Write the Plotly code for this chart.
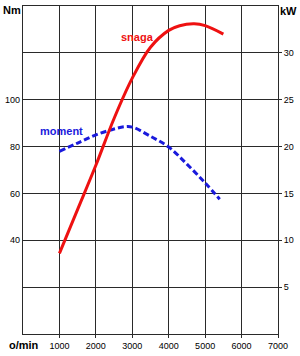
import plotly.graph_objects as go

# Data
power_rpm = [1000, 1500, 2000, 2500, 3000, 3500, 4000, 4300, 4700, 5000, 5500]
power_kw = [8.6, 13.3, 18.0, 23.0, 27.3, 30.6, 32.4, 32.9, 33.1, 32.9, 32.0]

torque_rpm = [1000, 1500, 2000, 2500, 2800, 3000, 3500, 4000, 4500, 5000, 5400]
torque_nm = [78.0, 81.5, 85.0, 87.5, 88.5, 88.3, 84.4, 79.8, 72.5, 64.5, 57.5]

x_ticks = [1000, 2000, 3000, 4000, 5000, 6000, 7000]
nm_grid = [0, 20, 40, 60, 80, 100, 120, 140]
nm_labels = ["", "", "40", "60", "80", "100", "", ""]
kw_ticks = [5, 10, 15, 20, 25, 30]

font = "Liberation Sans, Arial, Helvetica, sans-serif"
gridc = "#2a2a2a"

fig = go.Figure()
fig.add_trace(go.Scatter(x=torque_rpm, y=torque_nm, mode="lines", yaxis="y",
                         line=dict(color="#1a1adc", width=3, dash="6px,3px", shape="spline"),
                         showlegend=False, hoverinfo="skip"))
fig.add_trace(go.Scatter(x=power_rpm, y=power_kw, mode="lines", yaxis="y2",
                         line=dict(color="#ee1111", width=3, shape="spline", smoothing=1.0),
                         showlegend=False, hoverinfo="skip"))

fig.update_layout(
    width=300, height=356,
    margin=dict(l=22, r=22, t=5, b=19, pad=0),
    paper_bgcolor="white", plot_bgcolor="white",
    font=dict(family=font, size=9, color="black"),
    xaxis=dict(range=[0, 7000], tickvals=x_ticks, showgrid=True, gridcolor=gridc, gridwidth=1.2,
               showline=True, linecolor=gridc, linewidth=1.3, mirror=True, zeroline=False,
               ticks="outside", ticklen=3, tickcolor=gridc, tickfont=dict(size=9), fixedrange=True),
    yaxis=dict(range=[0, 140], tickvals=nm_grid, ticktext=nm_labels, showgrid=True, gridcolor=gridc,
               gridwidth=1.2, showline=True, linecolor=gridc, linewidth=1.3, mirror=True,
               zeroline=False, ticks="", tickfont=dict(size=9)),
    yaxis2=dict(range=[0, 35], tickvals=kw_ticks, overlaying="y", side="right", showgrid=False,
                zeroline=False, ticks="outside", ticklen=3, tickcolor=gridc, tickfont=dict(size=9)),
)

anns = [
    dict(text="<b>snaga</b>", x=137, y=36, color="#ee1111"),
    dict(text="<b>moment</b>", x=61, y=132, color="#1a1adc"),
    dict(text="<b>Nm</b>", x=11, y=9, color="black"),
    dict(text="<b>kW</b>", x=289, y=10, color="black"),
    dict(text="<b>o/min</b>", x=23, y=348, color="black"),
]

# convert pixel positions to paper coordinates accounting for margins
pw, ph = 300 - 22 - 22, 356 - 5 - 19
new = []
for a in anns:
    new.append(dict(text=a["text"], x=(a["x"] - 22) / pw, y=(356 - 19 - a["y"]) / ph,
                    xref="paper", yref="paper", xanchor="center", yanchor="middle",
                    showarrow=False, font=dict(family=font, size=11, color=a["color"])))
fig.layout.annotations = new

fig.write_html("out.html")
